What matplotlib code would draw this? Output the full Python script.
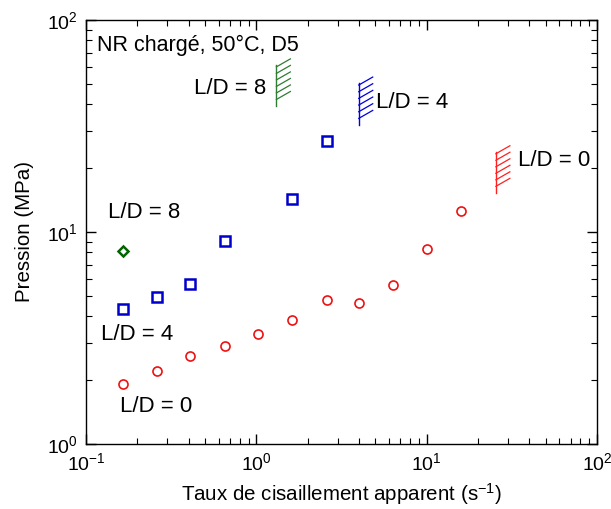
import matplotlib
matplotlib.use("Agg")
import matplotlib.pyplot as plt
import numpy as np

plt.rcParams['font.family'] = ['Liberation Sans', 'DejaVu Sans']
plt.rcParams['mathtext.fontset'] = 'custom'
plt.rcParams['mathtext.rm'] = 'Liberation Sans'
plt.rcParams['mathtext.it'] = 'Liberation Sans:italic'
plt.rcParams['mathtext.bf'] = 'Liberation Sans:bold'
plt.rcParams['mathtext.default'] = 'regular'
plt.rcParams['axes.unicode_minus'] = False

# Data
shear_ld0 = [0.164, 0.26, 0.407, 0.65, 1.02, 1.61, 2.58, 4.01, 6.38, 10.1, 16.0]
press_ld0 = [1.91, 2.21, 2.60, 2.89, 3.28, 3.82, 4.78, 4.64, 5.61, 8.28, 12.5]
shear_ld4 = [0.164, 0.26, 0.407, 0.65, 1.61, 2.58]
press_ld4 = [4.31, 4.95, 5.65, 9.1, 14.3, 26.8]
shear_ld8 = [0.164]
press_ld8 = [8.1]

# Hatched limit marks: x, y_low, y_high
limit_x = [1.31, 3.99, 25.5]
limit_ylo = [39.3, 32.0, 15.3]
limit_yhi = [61.4, 50.4, 23.9]
limit_colors = ['#2e7d32', '#0000dd', '#ff2020']

red = '#ee1111'
blue = '#0000cc'
green = '#006400'

fig = plt.figure(figsize=(6.11, 5.09), dpi=100)
ax = fig.add_axes([0.141, 0.128, 0.836, 0.833])
ax.set_xscale('log')
ax.set_yscale('log')
ax.set_xlim(0.1, 100)
ax.set_ylim(1, 100)

ax.plot(shear_ld0, press_ld0, 'o', ms=6.5, mfc='none', mec=red, mew=1.2, ls='none')
ax.plot(shear_ld4, press_ld4, 's', ms=7.5, mfc='none', mec=blue, mew=1.8, ls='none')
ax.plot(shear_ld8, press_ld8, 'D', ms=5, mfc='none', mec=green, mew=1.8, ls='none')

# hatched marks
xdec = 170.4  # px per decade (style for hatch geometry)
ydec = 212.0
for xv, ylo, yhi, c in zip(limit_x, limit_ylo, limit_yhi, limit_colors):
    ax.plot([xv, xv], [ylo, yhi], color=c, lw=1.0)
    n = 6
    starts = np.logspace(np.log10(ylo) + 0.03, np.log10(yhi) - 0.01, n)
    fx = 10 ** (14 / xdec)
    fy = 10 ** (8 / ydec)
    for ys in starts:
        ax.plot([xv, xv * fx], [ys, ys * fy], color=c, lw=0.9)

fs = 16
ax.text(97 / 611, 1 - 45 / 509, 'NR chargé, 50°C, D5', transform=fig.transFigure, fontsize=15.5, va='center', ha='left')
ax.text(266 / 611, 1 - 88 / 509, 'L/D = 8', transform=fig.transFigure, fontsize=fs, ha='right', va='center')
ax.text(376 / 611, 1 - 103 / 509, 'L/D = 4', transform=fig.transFigure, fontsize=fs, ha='left', va='center')
ax.text(518 / 611, 1 - 161 / 509, 'L/D = 0', transform=fig.transFigure, fontsize=fs, ha='left', va='center')
ax.text(108 / 611, 1 - 212 / 509, 'L/D = 8', transform=fig.transFigure, fontsize=fs, ha='left', va='center')
ax.text(101 / 611, 1 - 335 / 509, 'L/D = 4', transform=fig.transFigure, fontsize=fs, ha='left', va='center')
ax.text(120 / 611, 1 - 407 / 509, 'L/D = 0', transform=fig.transFigure, fontsize=fs, ha='left', va='center')

ax.set_xlabel('Taux de cisaillement apparent (s$^{-1}$)', fontsize=14.8, labelpad=5)
ax.set_ylabel('Pression (MPa)', fontsize=14.8, labelpad=9)

ax.tick_params(which='both', direction='in', top=True, right=True, labelsize=14)
ax.tick_params(which='major', length=7, width=1)
ax.tick_params(which='minor', length=4, width=0.8)
ax.tick_params(axis='x', pad=6)
ax.tick_params(axis='y', pad=6)
for s in ax.spines.values():
    s.set_linewidth(1.0)

fig.savefig('out.png', dpi=100)
